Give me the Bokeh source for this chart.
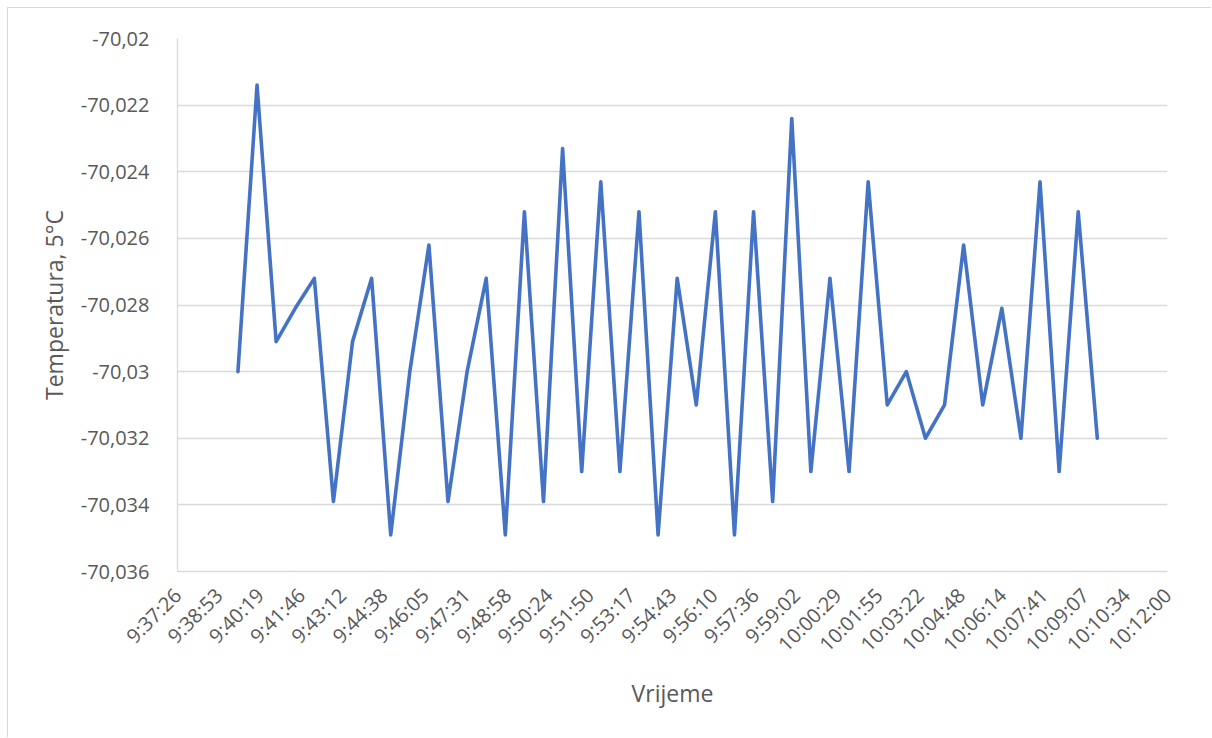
import numpy as np
from bokeh.plotting import figure
from bokeh.models import FixedTicker, Range1d
from bokeh.embed import file_html
from bokeh.resources import INLINE

# ---- data ----
times = ["9:39:33", "9:40:13", "9:40:53", "9:41:33", "9:42:13", "9:42:53", "9:43:33",
         "9:44:13", "9:44:53", "9:45:33", "9:46:13", "9:46:53", "9:47:33", "9:48:13",
         "9:48:53", "9:49:33", "9:50:13", "9:50:53", "9:51:33", "9:52:13", "9:52:53",
         "9:53:33", "9:54:13", "9:54:53", "9:55:33", "9:56:13", "9:56:53", "9:57:33",
         "9:58:13", "9:58:53", "9:59:33", "10:00:13", "10:00:53", "10:01:33", "10:02:13",
         "10:02:53", "10:03:33", "10:04:13", "10:04:53", "10:05:33", "10:06:13",
         "10:06:53", "10:07:33", "10:08:13", "10:08:53", "10:09:33"]
temperature = [-70.0300, -70.0214, -70.0291, -70.0281, -70.0272, -70.0339, -70.0291,
               -70.0272, -70.0349, -70.0300, -70.0262, -70.0339, -70.0300, -70.0272,
               -70.0349, -70.0252, -70.0339, -70.0233, -70.0330, -70.0243, -70.0330,
               -70.0252, -70.0349, -70.0272, -70.0310, -70.0252, -70.0349, -70.0252,
               -70.0339, -70.0224, -70.0330, -70.0272, -70.0330, -70.0243, -70.0310,
               -70.0300, -70.0320, -70.0310, -70.0262, -70.0310, -70.0281, -70.0320,
               -70.0243, -70.0330, -70.0252, -70.0320]
x_tick_labels = ["9:37:26", "9:38:53", "9:40:19", "9:41:46", "9:43:12", "9:44:38",
                 "9:46:05", "9:47:31", "9:48:58", "9:50:24", "9:51:50", "9:53:17",
                 "9:54:43", "9:56:10", "9:57:36", "9:59:02", "10:00:29", "10:01:55",
                 "10:03:22", "10:04:48", "10:06:14", "10:07:41", "10:09:07", "10:10:34",
                 "10:12:00"]
y_tick_labels = ["-70,036", "-70,034", "-70,032", "-70,03", "-70,028", "-70,026",
                 "-70,024", "-70,022", "-70,02"]
x_title = "Vrijeme"
y_title = "Temperatura, 5°C"


def to_sec(s):
    h, m, sec = s.split(":")
    return int(h) * 3600 + int(m) * 60 + int(sec)


xs = [to_sec(t) for t in times]

# axis extents (Excel: 0.401 .. 0.425 day)
x_start, x_end = 0.401 * 86400, 0.425 * 86400
y_start, y_end = -70.036, -70.02
x_ticks = [round(float(v), 3) for v in np.linspace(x_start, x_end, len(x_tick_labels))]
y_ticks = [round(float(v), 4) for v in np.linspace(y_start, y_end, len(y_tick_labels))]

FONT = "Open Sans"
LABEL_COLOR = "#595959"
GRID = "#d9d9d9"

p = figure(width=1204, height=730, output_backend="svg", toolbar_location=None,
           x_range=Range1d(x_start, x_end), y_range=Range1d(y_start, y_end),
           min_border_left=169, min_border_right=45, min_border_top=30,
           min_border_bottom=167)
p.styles = {"border-left": "1px solid #d9d9d9", "border-top": "1px solid #d9d9d9",
            "margin-left": "7px", "margin-top": "7px"}
p.outline_line_color = None
p.background_fill_color = "white"
p.border_fill_color = "white"

p.line(xs, temperature, line_color="#4472C4", line_width=3.6,
       line_join="round", line_cap="round")

# x axis
xa = p.xaxis[0]
xa.ticker = FixedTicker(ticks=x_ticks)
xa.major_label_overrides = {t: l for t, l in zip(x_ticks, x_tick_labels)}
xa.major_label_orientation = np.pi / 4
xa.major_tick_line_color = None
xa.minor_tick_line_color = None
xa.axis_line_color = GRID
xa.axis_line_width = 1.3
xa.major_label_text_font = FONT
xa.major_label_text_font_size = "20px"
xa.major_label_text_color = LABEL_COLOR
xa.major_label_standoff = 14
xa.axis_label = x_title
xa.axis_label_text_font = FONT
xa.axis_label_text_font_size = "23px"
xa.axis_label_text_font_style = "normal"
xa.axis_label_text_color = LABEL_COLOR
xa.axis_label_standoff = 7

# y axis
ya = p.yaxis[0]
ya.ticker = FixedTicker(ticks=y_ticks)
ya.major_label_overrides = {t: l for t, l in zip(y_ticks, y_tick_labels)}
ya.major_tick_line_color = None
ya.minor_tick_line_color = None
ya.axis_line_color = GRID
ya.axis_line_width = 1.3
ya.major_label_text_font = FONT
ya.major_label_text_font_size = "20px"
ya.major_label_text_color = LABEL_COLOR
ya.major_label_standoff = 22
ya.axis_label = y_title
ya.axis_label_text_font = FONT
ya.axis_label_text_font_size = "23px"
ya.axis_label_text_font_style = "normal"
ya.axis_label_text_color = LABEL_COLOR
ya.axis_label_standoff = 8

p.xgrid.grid_line_color = None
p.ygrid.grid_line_color = GRID
p.ygrid.grid_line_width = 1.3

open("out.html", "w").write(file_html(p, INLINE))
